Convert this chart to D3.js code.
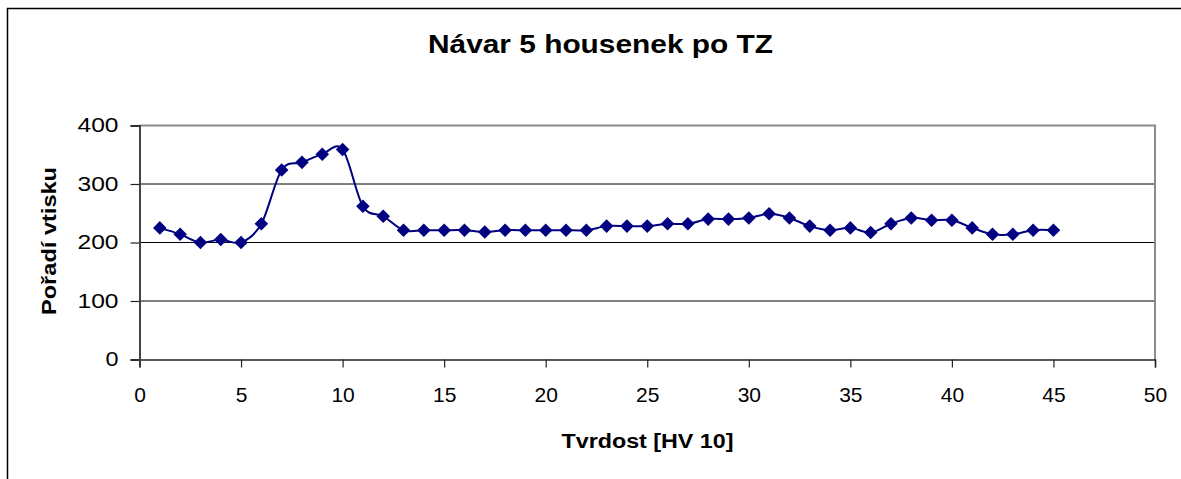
<!DOCTYPE html>
<html>
<head>
    <title>Návar 5 housenek po TZ</title>
    <style>
        body { margin: 0; background: #fff; }
        svg { display: block; font-family: "Liberation Sans", Arial, sans-serif; }
    </style>
</head>
<body>
    <svg width="1181" height="479"></svg>
    <script src="https://d3js.org/d3.v7.min.js"></script>
    <script>
        // data
        var hardness = [1, 2, 3, 4, 5, 6, 7, 8, 9, 10, 11, 12, 13, 14, 15, 16, 17, 18, 19, 20,
                        21, 22, 23, 24, 25, 26, 27, 28, 29, 30, 31, 32, 33, 34, 35, 36, 37, 38, 39, 40,
                        41, 42, 43, 44, 45];
        var order = [225, 214, 200, 205, 200, 232, 324, 337, 351, 359, 262, 245, 221, 221, 221, 221, 218, 221, 221, 221,
                     221, 221, 228, 228, 228, 232, 232, 240, 240, 242, 249, 242, 228, 221, 225, 217, 232, 242, 238, 238,
                     225, 214, 214, 221, 221];
        var xTicks = [0, 5, 10, 15, 20, 25, 30, 35, 40, 45, 50];
        var yTicks = [0, 100, 200, 300, 400];

        var svg = d3.select("svg");
        var points = hardness.map(function(h, i) { return {x: h, y: order[i]}; });

        // outer chart frame (runs off the right and bottom of the image)
        svg.append("rect")
            .attr("x", 7.5).attr("y", 8.5)
            .attr("width", 1200).attr("height", 500)
            .attr("fill", "none").attr("stroke", "#000").attr("stroke-width", 1.5);

        // plot area edges (not "top": that name is taken by window.top)
        var plotLeft = 139.5, plotRight = 1155, plotTop = 125.5, plotBottom = 359.5;
        var x = d3.scaleLinear().domain([0, 50]).range([plotLeft, plotRight]);
        var y = d3.scaleLinear().domain([0, 400]).range([plotBottom, plotTop]);

        // gridlines
        svg.append("g").selectAll("line")
            .data(yTicks.filter(function(t) { return t > 0 && t < 400; }))
            .enter().append("line")
            .attr("x1", plotLeft).attr("x2", plotRight)
            .attr("y1", function(d) { return y(d); })
            .attr("y2", function(d) { return y(d); })
            .attr("stroke", "#000").attr("stroke-width", 1);

        // plot area top / right edge
        svg.append("path")
            .attr("d", "M" + plotLeft + "," + plotTop + "H" + plotRight + "V" + plotBottom)
            .attr("fill", "none").attr("stroke", "#8c8c8c").attr("stroke-width", 2);

        // x axis
        var xAxis = svg.append("g")
            .attr("transform", "translate(0," + plotBottom + ")")
            .call(d3.axisBottom(x).tickValues(xTicks).tickSize(8).tickPadding(20));
        xAxis.select(".domain").attr("stroke", "#222").attr("stroke-width", 1.5);
        xAxis.selectAll(".tick line").attr("stroke", "#222").attr("stroke-width", 1.2);
        xAxis.selectAll("text")
            .attr("font-size", 21).attr("fill", "#000").attr("font-family", "Liberation Sans");

        // y axis
        var yAxis = svg.append("g")
            .attr("transform", "translate(" + plotLeft + ",0)")
            .call(d3.axisLeft(y).tickValues(yTicks).tickSize(9).tickPadding(12));
        yAxis.select(".domain").attr("stroke", "#444").attr("stroke-width", 2);
        yAxis.selectAll(".tick line").attr("stroke", "#222").attr("stroke-width", 1.2);
        yAxis.selectAll("text")
            .attr("font-size", 20).attr("fill", "#000").attr("font-family", "Liberation Sans")
            .attr("textLength", function(d) { return String(d).length * 14 - 1; })
            .attr("lengthAdjust", "spacingAndGlyphs");

        // smoothed series line
        var line = d3.line()
            .x(function(d) { return x(d.x); })
            .y(function(d) { return y(d.y); })
            .curve(d3.curveCatmullRom.alpha(0));
        svg.append("path")
            .datum(points)
            .attr("d", line)
            .attr("fill", "none").attr("stroke", "#000080").attr("stroke-width", 2);

        // diamond markers
        svg.append("g").selectAll("path")
            .data(points)
            .enter().append("path")
            .attr("d", d3.symbol().type(d3.symbolSquare).size(92))
            .attr("transform", function(d) { return "translate(" + x(d.x) + "," + y(d.y) + ") rotate(45)"; })
            .attr("fill", "#000080");

        // titles
        svg.append("text")
            .attr("x", 600.5).attr("y", 53)
            .attr("text-anchor", "middle")
            .attr("font-size", 26).attr("font-weight", "bold")
            .attr("textLength", 345).attr("lengthAdjust", "spacingAndGlyphs")
            .text("Návar 5 housenek po TZ");

        svg.append("text")
            .attr("x", 647.5).attr("y", 448)
            .attr("text-anchor", "middle")
            .attr("font-size", 20).attr("font-weight", "bold")
            .attr("textLength", 172).attr("lengthAdjust", "spacingAndGlyphs")
            .text("Tvrdost [HV 10]");

        svg.append("text")
            .attr("transform", "translate(56,241) rotate(-90)")
            .attr("text-anchor", "middle")
            .attr("font-size", 20).attr("font-weight", "bold")
            .attr("textLength", 148).attr("lengthAdjust", "spacingAndGlyphs")
            .text("Pořadí vtisku");
    </script>
</body>
</html>
